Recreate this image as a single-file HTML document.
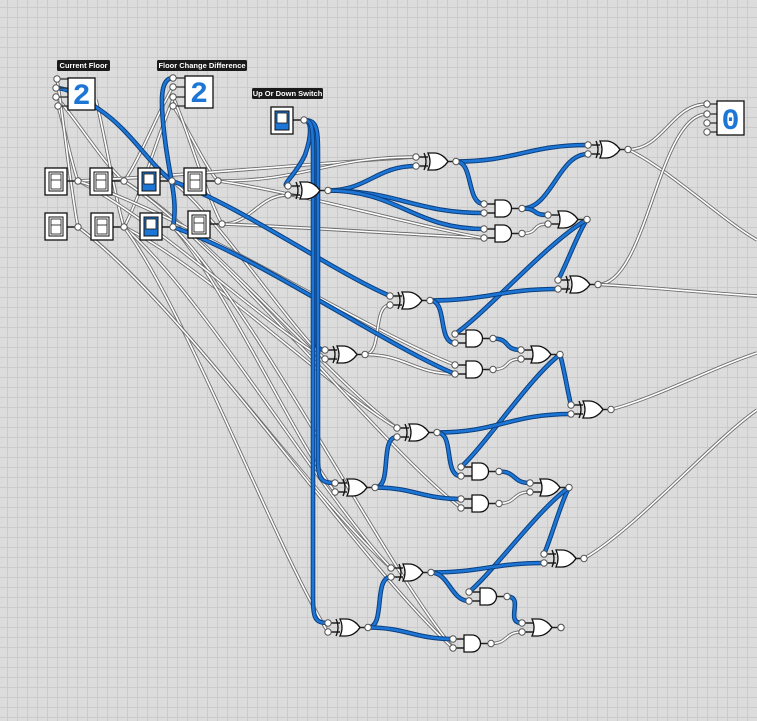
<!DOCTYPE html>
<html><head><meta charset="utf-8"><style>
html,body{margin:0;padding:0}
body{width:757px;height:721px;overflow:hidden;background-color:#dcdcdc;
background-image:linear-gradient(#cbcbcb 1px,transparent 1px),linear-gradient(90deg,#cbcbcb 1px,transparent 1px);
background-size:10px 10px;background-position:-3px -3px}
svg{position:absolute;left:0;top:0}
.lab{font:bold 7.5px "Liberation Sans",sans-serif;fill:#fff}
</style></head><body>
<svg id="s" width="757" height="721" xmlns="http://www.w3.org/2000/svg">
<g id="wires"></g><g id="parts"></g>
</svg>
<script>
var NS="http://www.w3.org/2000/svg";
var W=document.getElementById('wires'),P=document.getElementById('parts');
function el(p,t,a){var e=document.createElementNS(NS,t);for(var k in a)e.setAttribute(k,a[k]);p.appendChild(e);return e;}
var G={};
function gate(n,t,x,y){
 var o={};
 if(t=='and'){o.i1=[x-11,y+4];o.i2=[x-11,y+13];o.o=[x+27,y+8.5];}
 else if(t=='or'){o.i1=[x-10,y+4];o.i2=[x-10,y+13];o.o=[x+29,y+8.5];}
 else {o.i1=[x-9,y+4];o.i2=[x-9,y+13];o.o=[x+31,y+8.5];}
 o.t=t;o.x=x;o.y=y;G[n]=o;
}
function pin(x,y){el(P,'circle',{cx:x,cy:y,r:3.2,fill:'#fff',stroke:'#555','stroke-width':1});}
function drawGate(o){
 var x=o.x,y=o.y;
 el(P,'line',{x1:o.i1[0],y1:o.i1[1],x2:x+3,y2:o.i1[1],stroke:'#222','stroke-width':1.5});
 el(P,'line',{x1:o.i2[0],y1:o.i2[1],x2:x+3,y2:o.i2[1],stroke:'#222','stroke-width':1.5});
 el(P,'line',{x1:o.o[0],y1:o.o[1],x2:o.o[0]-10,y2:o.o[1],stroke:'#222','stroke-width':1.5});
 if(o.t=='and'){
  el(P,'path',{d:'M'+x+' '+y+'h8a8.5 8.5 0 0 1 0 17h-8z',fill:'#fff',stroke:'#111','stroke-width':1.3});
 } else {
  var ox=(o.t=='xor')?x+3:x;
  el(P,'path',{d:'M'+ox+' '+y+'h6c6 0 11 4 14 8.5c-3 4.5-8 8.5-14 8.5h-6q4 -8.5 0 -17z',fill:'#fff',stroke:'#111','stroke-width':1.3});
  if(o.t=='xor')el(P,'path',{d:'M'+(x-1)+' '+y+'q4 8.5 0 17',fill:'none',stroke:'#111','stroke-width':1.3});
 }
 pin(o.i1[0],o.i1[1]);pin(o.i2[0],o.i2[1]);pin(o.o[0],o.o[1]);
}
gate('X1','xor',425,153);gate('X2','xor',297,182);gate('A1','and',495,200);gate('A2','and',495,225);
gate('O1','or',558,211);gate('X3','xor',597,141);gate('X4','xor',567,276);gate('X5','xor',399,292);
gate('X6','xor',334,346);gate('A3','and',466,330);gate('A4','and',466,361);gate('O2','or',531,346);
gate('X7','xor',580,401);gate('X8','xor',406,424);gate('A5','and',472,463);gate('A6','and',472,495);
gate('O3','or',540,479);gate('X9','xor',344,479);gate('X10','xor',553,550);gate('X11','xor',400,564);
gate('A7','and',480,588);gate('O4','or',532,619);gate('X12','xor',337,619);gate('A8','and',464,635);
function strokeD(d,c){
 if(c=='b'){el(W,'path',{d:d,fill:'none',stroke:'#0b3f7e','stroke-width':4.6});el(W,'path',{d:d,fill:'none',stroke:'#1d76d6','stroke-width':2.6});}
 else {el(W,'path',{d:d,fill:'none',stroke:'#6e6e6e','stroke-width':3.4});el(W,'path',{d:d,fill:'none',stroke:'#fff','stroke-width':1.6});}
}
function wire(a,b,c,m){
 var x1=a[0],y1=a[1],x2=b[0],y2=b[1],d;
 if(m=='s'){var dx=x2-x1,dy=y2-y1;d='M'+x1+' '+y1+'C'+(x1+dx*0.3)+' '+(y1+dy*0.2)+' '+(x1+dx*0.75)+' '+(y1+dy*0.8)+' '+x2+' '+y2;}
 else {var k=Math.max(18,Math.abs(x2-x1)*0.45);d='M'+x1+' '+y1+'C'+(x1+k)+' '+y1+' '+(x2-k)+' '+y2+' '+x2+' '+y2;}
 strokeD(d,c);
}
// switches
var SW=[[45,168,0,[78,181]],[90,168,0,[124,181]],[138,168,1,[172,181]],[184,168,0,[218,181]],
        [45,213,0,[78,227]],[91,213,0,[124,227]],[140,213,1,[173,227]],[188,211,0,[222,224]],[271,107,1,[304,120]]];
var cfp=[[57,79],[56,88],[56,97],[58,106]], fcp=[[173,78],[173,87],[173,97],[173,106]], zp=[[707,104],[707,114],[707,123],[707,132]];
var s=SW;
wire(s[0][3],cfp[3],'w','s');wire(s[1][3],cfp[2],'w','s');wire(s[4][3],cfp[0],'w','s');wire(s[5][3],[96,100],'w','s');
wire(s[3][3],fcp[3],'w','s');wire(s[7][3],fcp[2],'w','s');wire(s[1][3],fcp[1],'w','s');wire(s[5][3],[175,95],'w','s');
wire(s[0][3],G.X1.i1,'w','s');wire(s[3][3],G.X1.i1,'w','h');
wire(s[7][3],G.X2.i2,'w','h');wire(s[7][3],G.A2.i2,'w','s');wire(s[3][3],G.A2.i2,'w','s');
wire(s[1][3],G.X8.i1,'w','s');wire(s[5][3],G.X8.i1,'w','s');wire(s[1][3],G.A6.i2,'w','s');
wire(s[4][3],G.X11.i1,'w','s');wire(s[5][3],G.X11.i1,'w','s');wire(s[5][3],G.X12.i2,'w','s');
wire(s[6][3],G.X9.i2,'w','s');wire(s[6][3],G.A8.i2,'w','s');wire(s[4][3],G.A8.i2,'w','s');
wire(s[0][3],G.X6.i2,'w','s');wire(s[2][3],G.X6.i2,'w','s');wire(s[0][3],G.A4.i1,'w','s');
wire(G.X6.o,G.X5.i2,'w','h');wire(G.X6.o,G.A4.i2,'w','h');
wire(G.A2.o,G.O1.i2,'w','h');wire(G.A4.o,G.O2.i2,'w','h');wire(G.A6.o,G.O3.i2,'w','h');wire(G.A8.o,G.O4.i2,'w','h');
wire(G.X3.o,zp[0],'w','h');wire(G.X3.o,[757,240],'w','s');
wire(G.X4.o,zp[1],'w','h');wire(G.X4.o,[757,296],'w','s');
wire(G.X7.o,[757,353],'w','s');wire(G.X10.o,[757,410],'w','s');
// blue
strokeD('M56 88C70 88 85 100 100 110C130 130 150 165 172 181','b');
wire(s[2][3],G.X5.i1,'b','s');
strokeD('M173 78C160 78 160 100 165 140C170 180 178 200 173 227','b');
wire(s[6][3],G.A4.i2,'b','s');
var U=s[8][3];
strokeD('M304 120C312 120 312 135 305 155C296 175 280 186 288 186','b');
function bus(xv,t){var x=t[0],y=t[1];strokeD('M304 120C'+xv+' 120 '+xv+' 130 '+xv+' 160L'+xv+' '+(y-25)+'C'+xv+' '+(y-5)+' '+(xv+2)+' '+y+' '+x+' '+y,'b');}
bus(315,G.X6.i1);bus(318,G.X9.i1);bus(313,G.X12.i1);
wire(G.X2.o,G.X1.i2,'b','h');wire(G.X2.o,G.A1.i2,'b','h');wire(G.X2.o,G.A2.i1,'b','h');
wire(G.X1.o,G.X3.i1,'b','h');wire(G.X1.o,G.A1.i1,'b','h');
wire(G.A1.o,G.X3.i2,'b','h');wire(G.A1.o,G.O1.i1,'b','h');
wire(G.O1.o,G.X4.i1,'b','s');wire(G.O1.o,G.A3.i1,'b','s');
wire(G.X5.o,G.X4.i2,'b','h');wire(G.X5.o,G.A3.i2,'b','h');
wire(G.A3.o,G.O2.i1,'b','h');
wire(G.O2.o,G.X7.i1,'b','s');wire(G.O2.o,G.A5.i1,'b','s');
wire(G.X8.o,G.X7.i2,'b','h');wire(G.X8.o,G.A5.i2,'b','h');
wire(G.X9.o,G.X8.i2,'b','h');wire(G.X9.o,G.A6.i1,'b','h');
wire(G.A5.o,G.O3.i1,'b','h');
wire(G.O3.o,G.X10.i1,'b','s');wire(G.O3.o,G.A7.i1,'b','s');
wire(G.X11.o,G.X10.i2,'b','h');wire(G.X11.o,G.A7.i2,'b','h');
wire(G.X12.o,G.X11.i2,'b','h');wire(G.X12.o,G.A8.i1,'b','h');
wire(G.A7.o,G.O4.i1,'b','h');
for(var n in G)drawGate(G[n]);
pin(G.O4.o[0],G.O4.o[1]);
SW.forEach(function(w){
 var x=w[0],y=w[1];
 el(P,'line',{x1:x+22,y1:w[3][1],x2:w[3][0],y2:w[3][1],stroke:'#222','stroke-width':1.5});
 el(P,'rect',{x:x,y:y,width:22,height:27,fill:'#fff',stroke:'#111','stroke-width':1.3});
 if(w[2]){el(P,'rect',{x:x+4,y:y+4,width:14,height:19,fill:'#1d76d6',stroke:'#111','stroke-width':1});
  el(P,'rect',{x:x+6,y:y+6,width:10,height:10,fill:'#fff',stroke:'#111','stroke-width':0.8});}
 else {el(P,'rect',{x:x+4,y:y+4,width:14,height:19,fill:'#fff',stroke:'#111','stroke-width':1});
  el(P,'rect',{x:x+6,y:y+6,width:10,height:15,fill:'#fff',stroke:'#111','stroke-width':0.8});
  el(P,'line',{x1:x+6,y1:y+12,x2:x+16,y2:y+12,stroke:'#111','stroke-width':0.8});}
 pin(w[3][0],w[3][1]);
});
function disp(x,y,w,h,pins,txt){
 pins.forEach(function(p){el(P,'line',{x1:p[0],y1:p[1],x2:x,y2:p[1],stroke:'#333','stroke-width':1.3});});
 el(P,'rect',{x:x,y:y,width:w,height:h,fill:'#fff',stroke:'#111','stroke-width':1.3});
 var t=el(P,'text',{x:x+w/2,y:y+h-6,'text-anchor':'middle','font-family':'Liberation Mono,monospace','font-size':30,'font-weight':'bold',fill:'#1d76d6'});t.textContent=txt;
 pins.forEach(function(p){pin(p[0],p[1]);});
}
disp(68,78,27,32,cfp,'2');disp(185,76,28,32,fcp,'2');disp(717,101,27,34,zp,'0');
function label(x,y,w,txt){el(P,'rect',{x:x,y:y,width:w,height:11,rx:1.5,fill:'#1a1a1a'});
 var t=el(P,'text',{x:x+w/2,y:y+8,'text-anchor':'middle','class':'lab'});t.textContent=txt;}
label(57,60,53,'Current Floor');label(157,60,90,'Floor Change Difference');label(252,88,71,'Up Or Down Switch');
</script>
</body></html>
